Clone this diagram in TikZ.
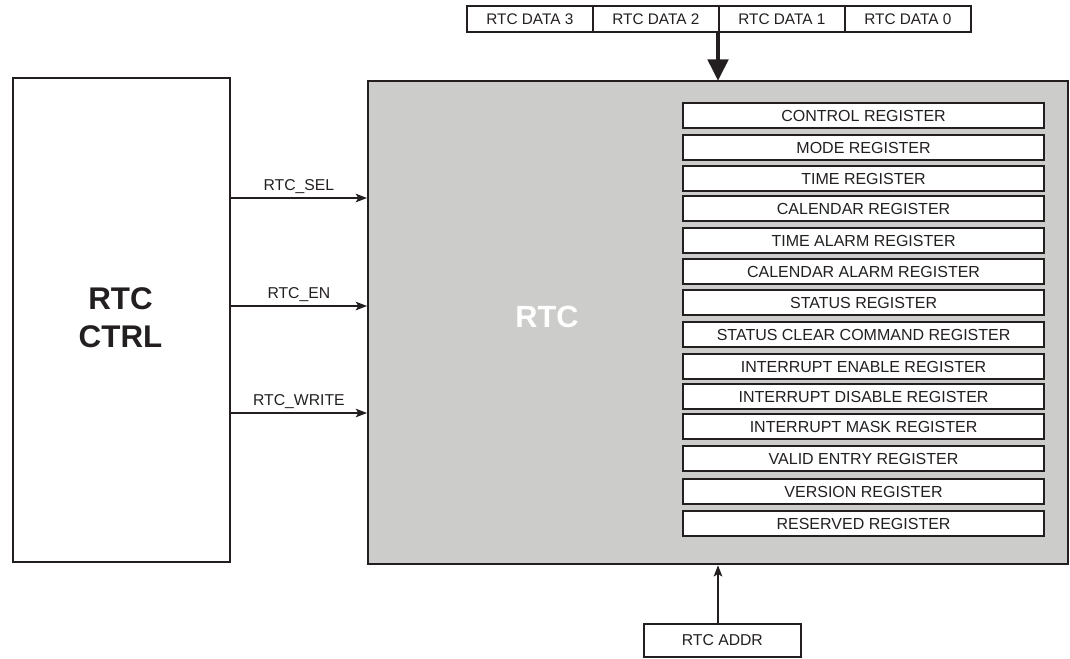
\documentclass[tikz,border=0pt]{standalone}
\usepackage{fontspec}
\setmainfont{Liberation Sans}
\usetikzlibrary{arrows.meta,calc}
\definecolor{ink}{HTML}{231F20}
\definecolor{rtcgray}{HTML}{CCCCCB}
\begin{document}
\begin{tikzpicture}[x=0.75pt,y=-0.75pt,
  every node/.style={text=ink},
  reg/.style={draw=ink, line width=1.6pt, fill=white, minimum width=270.75pt,
    minimum height=18.75pt, inner sep=0pt, anchor=north west,
    font=\fontsize{12}{14}\selectfont},
  databox/.style={draw=ink, line width=1.3pt, fill=white, minimum width=94.5pt,
    minimum height=19.5pt, inner sep=0pt, anchor=north west,
    font=\fontsize{11.5}{13}\selectfont},
  sig/.style={draw=ink, line width=0.8pt, -{Stealth[length=8.5pt,width=6.5pt,inset=2pt]}},
  lbl/.style={font=\fontsize{11.8}{14}\selectfont, anchor=base, yshift=6pt},
  bus/.style={draw=ink, line width=2.3pt, -{Triangle[length=16pt,width=15.5pt]}, shorten >=-0.5pt}
]
\useasboundingbox (0,0) rectangle (1070,658);

% main blocks
\node[draw=ink, line width=1.3pt, fill=white, anchor=north west, inner sep=0pt,
      minimum width=162.75pt, minimum height=363pt] (ctrl) at (12,77) {};
\node[align=center, font=\bfseries\fontsize{23.5}{28.5}\selectfont] (ctrltxt) at (120.5,318) {RTC\\CTRL};

\node[draw=ink, line width=1.7pt, fill=rtcgray, anchor=north west, inner sep=0pt,
      minimum width=525pt, minimum height=362.25pt] (rtc) at (367,80) {};
\node[text=white, font=\bfseries\fontsize{23}{27}\selectfont] (rtctxt) at (547,317) {RTC};

% registers
\node[reg] (r1)  at (682,102) {CONTROL REGISTER};
\node[reg] (r2)  at (682,134) {MODE REGISTER};
\node[reg] (r3)  at (682,165) {TIME REGISTER};
\node[reg] (r4)  at (682,195) {CALENDAR REGISTER};
\node[reg] (r5)  at (682,227) {TIME ALARM REGISTER};
\node[reg] (r6)  at (682,258) {CALENDAR ALARM REGISTER};
\node[reg] (r7)  at (682,289) {STATUS REGISTER};
\node[reg] (r8)  at (682,321) {STATUS CLEAR COMMAND REGISTER};
\node[reg] (r9)  at (682,353) {INTERRUPT ENABLE REGISTER};
\node[reg] (r10) at (682,383) {INTERRUPT DISABLE REGISTER};
\node[reg] (r11) at (682,413) {INTERRUPT MASK REGISTER};
\node[reg] (r12) at (682,445) {VALID ENTRY REGISTER};
\node[reg] (r13) at (682,478) {VERSION REGISTER};
\node[reg] (r14) at (682,510) {RESERVED REGISTER};

% data boxes
\node[databox] (d3) at (466,5) {RTC DATA 3};
\node[databox] (d2) at (592,5) {RTC DATA 2};
\node[databox] (d1) at (718,5) {RTC DATA 1};
\node[databox] (d0) at (844,5) {RTC DATA 0};

% address box
\node[draw=ink, line width=1.3pt, fill=white, anchor=north west, inner sep=0pt,
      minimum width=117.75pt, minimum height=25pt,
      font=\fontsize{11.8}{14}\selectfont] (addr) at (643,623) {RTC ADDR};

% connectors
\coordinate (busx) at (718,0);
\draw[bus] (d1.south west) -- (d1.south west |- rtc.north);
\draw[sig] (addr.north -| busx) -- (rtc.south -| busx);

\coordinate (ysel) at (0,198);
\coordinate (yen) at (0,306);
\coordinate (ywr) at (0,413);
\draw[sig] (ctrl.east |- ysel) -- node[lbl] {RTC\_SEL} (rtc.west |- ysel);
\draw[sig] (ctrl.east |- yen) -- node[lbl] {RTC\_EN} (rtc.west |- yen);
\draw[sig] (ctrl.east |- ywr) -- node[lbl] {RTC\_WRITE} (rtc.west |- ywr);
\end{tikzpicture}
\end{document}
